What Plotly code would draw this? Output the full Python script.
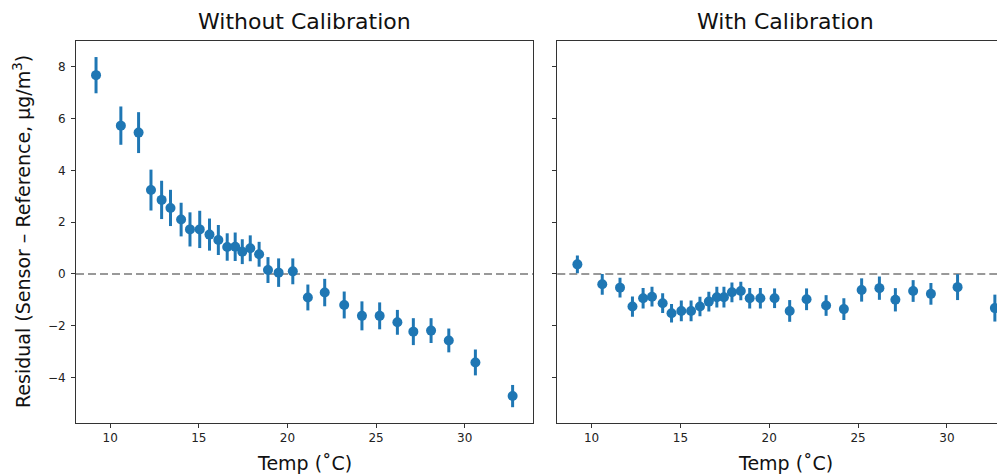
import plotly.graph_objects as go

# ---- data ----
temps = [9.2, 10.6, 11.6, 12.3, 12.9, 13.4, 14.0, 14.5, 15.05, 15.6, 16.1, 16.6, 17.05, 17.45,
         17.9, 18.4, 18.9, 19.5, 20.3, 21.15, 22.1, 23.2, 24.2, 25.2, 26.2, 27.1, 28.1, 29.1,
         30.6, 32.7]

resid_without = [7.68, 5.73, 5.46, 3.24, 2.86, 2.55, 2.1, 1.72, 1.72, 1.52, 1.31, 1.04, 1.05,
                 0.86, 0.99, 0.76, 0.15, 0.05, 0.1, -0.91, -0.72, -1.2, -1.62, -1.62, -1.87,
                 -2.23, -2.19, -2.57, -3.42, -4.72]
err_without = [0.7, 0.74, 0.79, 0.79, 0.74, 0.7, 0.65, 0.66, 0.72, 0.62, 0.58, 0.53, 0.55, 0.48,
               0.5, 0.48, 0.5, 0.55, 0.5, 0.5, 0.53, 0.52, 0.56, 0.52, 0.48, 0.52, 0.48, 0.46,
               0.5, 0.43]

resid_with = [0.37, -0.4, -0.53, -1.26, -0.94, -0.88, -1.13, -1.52, -1.43, -1.43, -1.26, -1.07,
              -0.9, -0.9, -0.71, -0.66, -0.94, -0.94, -0.94, -1.43, -0.98, -1.22, -1.36, -0.62,
              -0.55, -1.0, -0.66, -0.77, -0.51, -1.32]
err_with = [0.34, 0.4, 0.38, 0.39, 0.4, 0.38, 0.38, 0.36, 0.4, 0.4, 0.38, 0.38, 0.4, 0.4, 0.38,
            0.36, 0.4, 0.4, 0.38, 0.42, 0.42, 0.4, 0.42, 0.45, 0.45, 0.45, 0.42, 0.42, 0.5, 0.52]

titles = ["Without Calibration", "With Calibration"]
x_label = "Temp (˚C)"
y_label = "Residual (Sensor – Reference, μg/m<sup>3</sup>)"
x_ticks = [10, 15, 20, 25, 30]
y_ticks = [-4, -2, 0, 2, 4, 6, 8]

BLUE = "#1f77b4"
FONT = "DejaVu Sans"
AX = "#333333"

fig = go.Figure()
for xa, ya, vals, errs in [("x", "y", resid_without, err_without),
                           ("x2", "y2", resid_with, err_with)]:
    fig.add_trace(go.Scatter(
        x=temps, y=vals, xaxis=xa, yaxis=ya, mode="markers", cliponaxis=False,
        marker=dict(size=10, color=BLUE, line=dict(width=0)),
        error_y=dict(type="data", array=errs, visible=True, thickness=3, width=0, color=BLUE),
        showlegend=False, hoverinfo="x+y"))

# page body has an 8px margin: figure geometry is expressed relative to its own origin
OFF = 8
W, H = 1005 - OFF, 475 - OFF
L, T = 68, 33
B = 52
pw = W - L
ph = H - T - B


def px_x(sx):  # screen x -> paper x
    return (sx - OFF - L) / pw


def px_y(sy):  # screen y -> paper y
    return 1 - (sy - OFF - T) / ph


d1 = [0, px_x(533)]
d2 = [px_x(557.3), 1]
c1 = px_x((75.7 + 533) / 2)
c2 = px_x(557.3 + (533 - 75.7) / 2)

axis_common = dict(showgrid=False, zeroline=False, showline=True, linecolor=AX, linewidth=1,
                   ticks="outside", ticklen=4, tickcolor=AX, tickwidth=1,
                   tickfont=dict(family=FONT, size=12, color="#222222"))

fig.update_layout(
    width=W, height=H,
    margin=dict(l=L, r=0, t=T, b=B),
    plot_bgcolor="white", paper_bgcolor="white",
    font=dict(family=FONT, color="#222222"),
    xaxis=dict(domain=d1, range=[8.07, 33.85], tickvals=x_ticks, mirror=True, anchor="y",
               **axis_common),
    xaxis2=dict(domain=d2, range=[8.07, 33.27], tickvals=x_ticks, mirror=True, anchor="y2",
                **axis_common),
    yaxis=dict(domain=[0, 1], range=[-5.76, 9.0], tickvals=y_ticks, mirror=True, anchor="x",
               ticklabelstandoff=3, **axis_common),
    yaxis2=dict(domain=[0, 1], range=[-5.76, 9.0], tickvals=y_ticks, mirror=False, anchor="x2",
                showticklabels=False, matches="y", **axis_common),
)

for xr, yr in [("x domain", "y"), ("x2 domain", "y2")]:
    fig.add_shape(type="line", xref=xr, yref=yr, x0=0, x1=1, y0=0, y1=0, layer="below",
                  line=dict(color="#999999", width=2, dash="8px,4px"))

for cx, title in zip([c1, c2], titles):
    fig.add_annotation(text=title, xref="paper", yref="paper", x=cx, y=px_y(22),
                       showarrow=False, xanchor="center", yanchor="middle",
                       font=dict(family=FONT, size=22, color="#111111"))
    fig.add_annotation(text=x_label, xref="paper", yref="paper", x=cx, y=px_y(463),
                       showarrow=False, xanchor="center", yanchor="middle",
                       font=dict(family=FONT, size=19, color="#111111"))

fig.add_annotation(text=y_label, xref="paper", yref="paper", x=px_x(22), y=px_y(232),
                   textangle=-90, showarrow=False, xanchor="center", yanchor="middle",
                   font=dict(family=FONT, size=19, color="#111111"))

fig.write_html("out.html")
